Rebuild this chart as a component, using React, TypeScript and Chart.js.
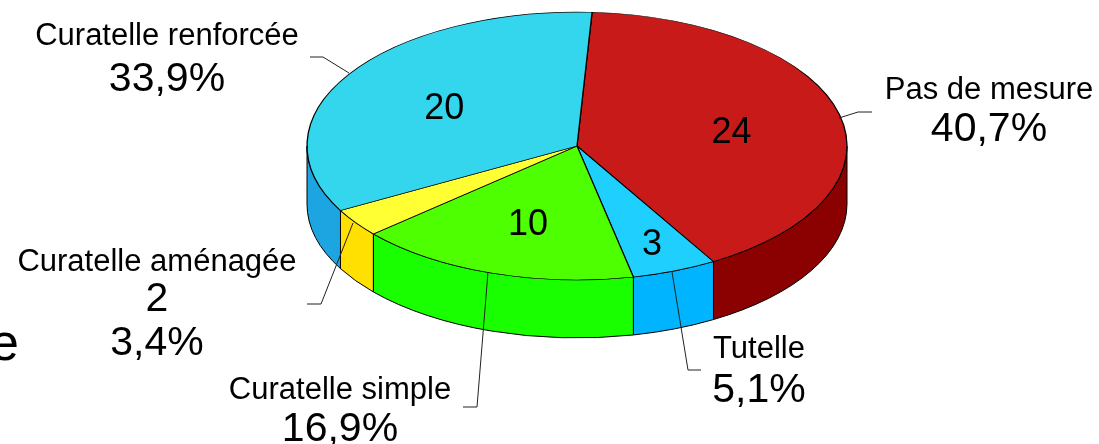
import React, { useEffect, useRef } from "react";
import { Chart, registerables } from "chart.js";

Chart.register(...registerables);

const categories = ["Pas de mesure", "Tutelle", "Curatelle simple", "Curatelle aménagée", "Curatelle renforcée"];
const counts = [24, 3, 10, 2, 20];
const percents = ["40,7%", "5,1%", "16,9%", "3,4%", "33,9%"];
const topColors = ["#C81A18", "#1FD0FF", "#4DFF00", "#FFFF33", "#33D6EC"];
const sideColors = ["#8B0000", "#00B4FF", "#1AFF00", "#FFE000", "#1CA5E0"];

const FONT = '"Liberation Sans", Arial, sans-serif';
const RX = 270;
const SQUASH = 0.496;
const DEPTH = 58;
const valueRadial = [0.585, 0.757, 0.585, 0, 0.585];

const callouts = [
  { lines: [{ t: categories[0], s: 31, y: 90 }, { t: percents[0], s: 41, y: 130 }], x: 989, path: [[839, 118], [858, 112], [872, 112]] },
  { lines: [{ t: categories[1], s: 31, y: 349 }, { t: percents[1], s: 41, y: 391 }], x: 759, path: [[672, 272], [688, 370], [701, 370]] },
  { lines: [{ t: categories[2], s: 31, y: 390 }, { t: percents[2], s: 41, y: 430 }], x: 340, path: [[488, 272], [477, 407], [463, 407]] },
  { lines: [{ t: categories[3], s: 31, y: 262 }, { t: String(counts[3]), s: 41, y: 300 }, { t: percents[3], s: 41, y: 344 }], x: 157, path: [[353, 223], [321, 304], [307, 304]] },
  { lines: [{ t: categories[4], s: 31, y: 36 }, { t: percents[4], s: 41, y: 80 }], x: 167, path: [[349, 73], [323, 57], [310, 57]] },
];

const pie3d = {
  id: "pie3d",
  beforeDatasetsDraw(chart: any) {
    const { ctx } = chart;
    const arcs = chart.getDatasetMeta(0).data;
    ctx.save();
    arcs.forEach((arc: any, i: number) => {
      const ry = arc.outerRadius * SQUASH;
      const lo = Math.max(arc.startAngle, 0);
      const hi = Math.min(arc.endAngle, Math.PI);
      if (hi <= lo) return;
      ctx.beginPath();
      ctx.ellipse(arc.x, arc.y, arc.outerRadius, ry, 0, lo, hi);
      ctx.ellipse(arc.x, arc.y + DEPTH, arc.outerRadius, ry, 0, hi, lo, true);
      ctx.closePath();
      ctx.fillStyle = sideColors[i];
      ctx.fill();
      ctx.strokeStyle = "#000";
      ctx.lineWidth = 1;
      ctx.stroke();
    });
    ctx.restore();
  },
  beforeDatasetDraw(chart: any) {
    const { ctx } = chart;
    const c = chart.getDatasetMeta(0).data[0];
    ctx.save();
    ctx.translate(c.x, c.y);
    ctx.scale(1, SQUASH);
    ctx.translate(-c.x, -c.y);
  },
  afterDatasetDraw(chart: any) {
    chart.ctx.restore();
  },
  afterDraw(chart: any) {
    const { ctx } = chart;
    const arcs = chart.getDatasetMeta(0).data;
    ctx.save();
    ctx.fillStyle = "#000";
    ctx.textBaseline = "middle";
    ctx.textAlign = "center";

    arcs.forEach((arc: any, i: number) => {
      if (!valueRadial[i]) return;
      const mid = (arc.startAngle + arc.endAngle) / 2;
      const r = arc.outerRadius * valueRadial[i];
      ctx.font = `36px ${FONT}`;
      ctx.fillText(String(counts[i]), arc.x + Math.cos(mid) * r + 1, arc.y + Math.sin(mid) * r * SQUASH + 5);
    });

    callouts.forEach((c) => {
      c.lines.forEach((l) => {
        ctx.font = `${l.s}px ${FONT}`;
        ctx.fillText(l.t, c.x, l.y);
      });
      ctx.beginPath();
      c.path.forEach((p, k) => (k ? ctx.lineTo(p[0], p[1]) : ctx.moveTo(p[0], p[1])));
      ctx.strokeStyle = "#222";
      ctx.lineWidth = 1;
      ctx.stroke();
    });

    ctx.textAlign = "right";
    ctx.font = `52px ${FONT}`;
    ctx.fillText("e", 19, 346);
    ctx.restore();
  },
};

export default function App() {
  const ref = useRef<HTMLCanvasElement>(null);
  useEffect(() => {
    document.body.style.margin = "0";
    const chart = new Chart(ref.current!, {
      type: "pie",
      data: {
        labels: categories,
        datasets: [
          {
            data: counts,
            backgroundColor: topColors,
            borderColor: "#000",
            borderWidth: 1.3,
            clip: false,
          } as any,
        ],
      },
      options: {
        animation: false,
        responsive: false,
        rotation: 3.2,
        radius: RX,
        layout: { padding: { left: 55, right: 0, top: 0, bottom: 152 } },
        plugins: { legend: { display: false }, tooltip: { enabled: false } },
      },
      plugins: [pie3d],
    });
    return () => chart.destroy();
  }, []);
  return <canvas ref={ref} width={1099} height={444} style={{ display: "block" }} />;
}
